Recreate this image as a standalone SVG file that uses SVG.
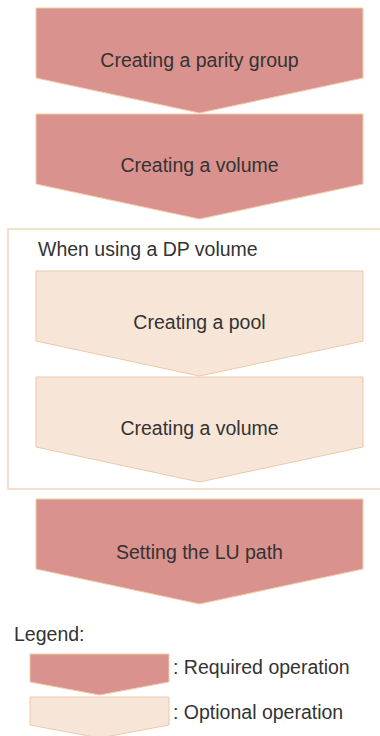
<svg xmlns="http://www.w3.org/2000/svg" width="380" height="736" viewBox="0 0 380 736">
<style>
.req{fill:#D9928D;stroke:#F2CDA6;stroke-width:1}
.opt{fill:#F7E6D7;stroke:#EBC9A9;stroke-width:1}
.lbl{font-family:"Liberation Sans",Arial,sans-serif;font-size:19.5px;fill:#333333}
.mid{text-anchor:middle}
</style>
<rect width="380" height="736" fill="#FFFFFF"/>
<g id="group-dp">
<rect x="8" y="229" width="390" height="260" fill="none" stroke="#F2D6BC" stroke-width="1.5"/>
<text class="lbl" x="38" y="256">When using a DP volume</text>
</g>
<g id="step-parity">
<polygon class="req" points="36,8 363,8 363,78 199.5,113 36,78"/>
<text class="lbl mid" x="199.5" y="67">Creating a parity group</text>
</g>
<g id="step-volume">
<polygon class="req" points="36,114 363,114 363,184 199.5,219 36,184"/>
<text class="lbl mid" x="199.5" y="172">Creating a volume</text>
</g>
<g id="step-pool">
<polygon class="opt" points="36,271 363,271 363,341 199.5,376 36,341"/>
<text class="lbl mid" x="199.5" y="329">Creating a pool</text>
</g>
<g id="step-dpvolume">
<polygon class="opt" points="36,377 363,377 363,447 199.5,482 36,447"/>
<text class="lbl mid" x="199.5" y="435">Creating a volume</text>
</g>
<g id="step-lupath">
<polygon class="req" points="36,499 363,499 363,569 199.5,604 36,569"/>
<text class="lbl mid" x="199.5" y="559">Setting the LU path</text>
</g>
<g id="connectors"></g>
<g id="legend">
<text class="lbl" x="14" y="641">Legend:</text>
<polygon class="req" points="30,654 169,654 169,682 99.5,695 30,682"/>
<text class="lbl" x="173" y="674">: Required operation</text>
<polygon class="opt" points="30,697 169,697 169,725 99.5,738 30,725"/>
<text class="lbl" x="173" y="719">: Optional operation</text>
</g>
</svg>
